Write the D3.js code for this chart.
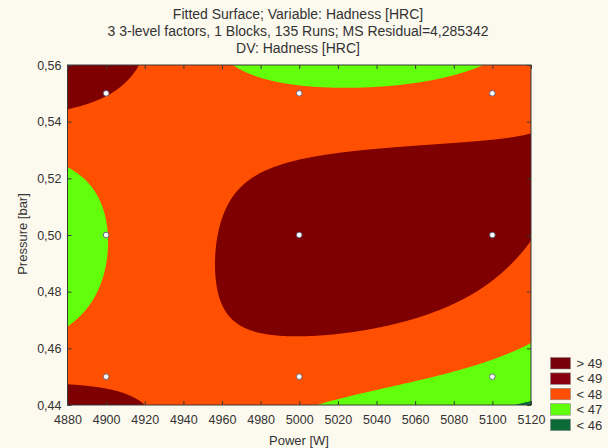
<!DOCTYPE html>
<html>
<head>
<meta charset="utf-8">
<script src="https://cdn.jsdelivr.net/npm/d3@7"></script>
<style>
  html, body { margin: 0; padding: 0; background: #fcf9ee; }
  svg { display: block; }
  text { font-family: "Liberation Sans", Arial, sans-serif; fill: #333; }
</style>
</head>
<body>
<svg id="chart" width="608" height="448"></svg>
<script>
// Design levels of the two plotted factors
const powerLevels = [4900, 5000, 5100];
const pressureLevels = [0.45, 0.50, 0.55];

// Fitted hardness [HRC] at each design point (rows: pressure, columns: power)
const fittedAt045 = [47.84, 47.53, 46.69];
const fittedAt050 = [46.98, 48.41, 48.25];
const fittedAt055 = [48.04, 47.135, 47.50];
const fittedHardness = [fittedAt045, fittedAt050, fittedAt055];

// Contour levels and legend
const levels = [46, 47, 48, 49];
const legendLabels = ["> 49", "< 49", "< 48", "< 47", "< 46"];
const legendColors = ["#76000a", "#880010", "#ff4f00", "#62ff0c", "#0b6b36"];

// Axis ticks
const powerTicks = [4880, 4900, 4920, 4940, 4960, 4980, 5000, 5020, 5040, 5060, 5080, 5100, 5120];
const pressureTicks = [0.44, 0.46, 0.48, 0.50, 0.52, 0.54, 0.56];

const titleLines = [
  "Fitted Surface; Variable: Hadness [HRC]",
  "3 3-level factors, 1 Blocks, 135 Runs; MS Residual=4,285342",
  "DV: Hadness [HRC]"
];

const svg = d3.select("#chart");
const plot = { left: 67.5, right: 531, top: 65, bottom: 405 };

const x = d3.scaleLinear().domain([4880, 5120]).range([plot.left, plot.right]);
const y = d3.scaleLinear().domain([0.44, 0.56]).range([plot.bottom, plot.top]);

// Quadratic (3-level) surface through the fitted design-point values
function basis(t, levelsArr) {
  const [a, b, c] = levelsArr;
  return [
    ((t - b) * (t - c)) / ((a - b) * (a - c)),
    ((t - a) * (t - c)) / ((b - a) * (b - c)),
    ((t - a) * (t - b)) / ((c - a) * (c - b))
  ];
}
function surface(p, q) {
  const bp = basis(p, powerLevels), bq = basis(q, pressureLevels);
  let z = 0;
  for (let j = 0; j < 3; j++)
    for (let i = 0; i < 3; i++) z += fittedHardness[j][i] * bp[i] * bq[j];
  return z;
}

// Sample the surface on a grid covering the plot
const nx = 464, ny = 340;
const values = new Float64Array(nx * ny);
const [p0, p1] = x.domain(), [q0, q1] = y.domain();
for (let j = 0; j < ny; j++) {
  const q = q1 - (j + 0.5) * (q1 - q0) / ny;
  for (let i = 0; i < nx; i++) {
    const p = p0 + (i + 0.5) * (p1 - p0) / nx;
    values[j * nx + i] = surface(p, q);
  }
}
const contours = d3.contours().size([nx, ny]).thresholds(levels)(values);

const gridToPx = d3.geoTransform({
  point(gx, gy) {
    this.stream.point(
      x(p0 + gx * (p1 - p0) / nx),
      y(q1 - gy * (q1 - q0) / ny)
    );
  }
});
const path = d3.geoPath(gridToPx);

svg.append("clipPath").attr("id", "plotClip")
  .append("rect")
  .attr("x", plot.left).attr("y", plot.top)
  .attr("width", plot.right - plot.left).attr("height", plot.bottom - plot.top);

const bands = svg.append("g").attr("clip-path", "url(#plotClip)");
// lowest band (< 46) underneath
bands.append("rect")
  .attr("x", plot.left).attr("y", plot.top)
  .attr("width", plot.right - plot.left).attr("height", plot.bottom - plot.top)
  .attr("fill", legendColors[4]);
const bandColor = { 46: legendColors[3], 47: legendColors[2], 48: "#7e0000", 49: legendColors[0] };
bands.selectAll("path.band").data(contours).join("path")
  .attr("class", "band")
  .attr("d", path)
  .attr("fill", d => bandColor[d.value]);

// Frame with inward ticks
const frame = svg.append("g");
frame.append("rect")
  .attr("x", plot.left).attr("y", plot.top)
  .attr("width", plot.right - plot.left).attr("height", plot.bottom - plot.top)
  .attr("fill", "none").attr("stroke", "#3a3a3a").attr("stroke-width", 1);

const xAxis = d3.axisBottom(x).tickValues(powerTicks).tickFormat(d3.format("d")).tickSizeInner(-4).tickSizeOuter(0).tickPadding(10);
const xTop = d3.axisTop(x).tickValues(powerTicks).tickFormat("").tickSizeInner(-4).tickSizeOuter(0);
const commaFmt = d => d3.format(".2f")(d).replace(".", ",");
const yAxis = d3.axisLeft(y).tickValues(pressureTicks).tickFormat(commaFmt).tickSizeInner(-4).tickSizeOuter(0).tickPadding(6);
const yRight = d3.axisRight(y).tickValues(pressureTicks).tickFormat("").tickSizeInner(-4).tickSizeOuter(0);

function styleAxis(g) {
  g.select(".domain").remove();
  g.selectAll(".tick line").attr("stroke", "#3a3a3a");
  g.selectAll(".tick text").attr("fill", "#333").style("font-size", "12.5px")
    .style("font-family", "'Liberation Sans', Arial, sans-serif");
}
svg.append("g").attr("transform", `translate(0,${plot.bottom})`).call(xAxis).call(styleAxis);
svg.append("g").attr("transform", `translate(0,${plot.top})`).call(xTop).call(styleAxis);
svg.append("g").attr("transform", `translate(${plot.left},0)`).call(yAxis).call(styleAxis);
svg.append("g").attr("transform", `translate(${plot.right},0)`).call(yRight).call(styleAxis);

// Design points
const designPoints = [];
pressureLevels.forEach(q => powerLevels.forEach(p => designPoints.push({ p, q })));
svg.append("g").selectAll("circle").data(designPoints).join("circle")
  .attr("cx", d => x(d.p)).attr("cy", d => y(d.q)).attr("r", 2.8)
  .attr("fill", "#ffffff").attr("stroke", "#5a5a7a").attr("stroke-width", 0.9);

// Titles
svg.append("g").selectAll("text").data(titleLines).join("text")
  .attr("x", 298).attr("y", (d, i) => 19.3 + i * 17)
  .attr("text-anchor", "middle").style("font-size", "14px")
  .text(d => d);

svg.append("text").attr("x", 299).attr("y", 445).attr("text-anchor", "middle")
  .style("font-size", "13px").text("Power [W]");
svg.append("text").attr("transform", `translate(27,234) rotate(-90)`).attr("text-anchor", "middle")
  .style("font-size", "13px").text("Pressure [bar]");

// Legend
const legend = svg.append("g").attr("transform", "translate(550.5,357.5)");
const items = legend.selectAll("g").data(legendLabels).join("g")
  .attr("transform", (d, i) => `translate(0,${i * 15.4})`);
items.append("rect").attr("width", 20).attr("height", 11.5)
  .attr("fill", (d, i) => legendColors[i]).attr("stroke", "#8a8a8a").attr("stroke-width", 0.6);
items.append("text").attr("x", 26).attr("y", 10.5).style("font-size", "13px").text(d => d);
</script>
</body>
</html>
